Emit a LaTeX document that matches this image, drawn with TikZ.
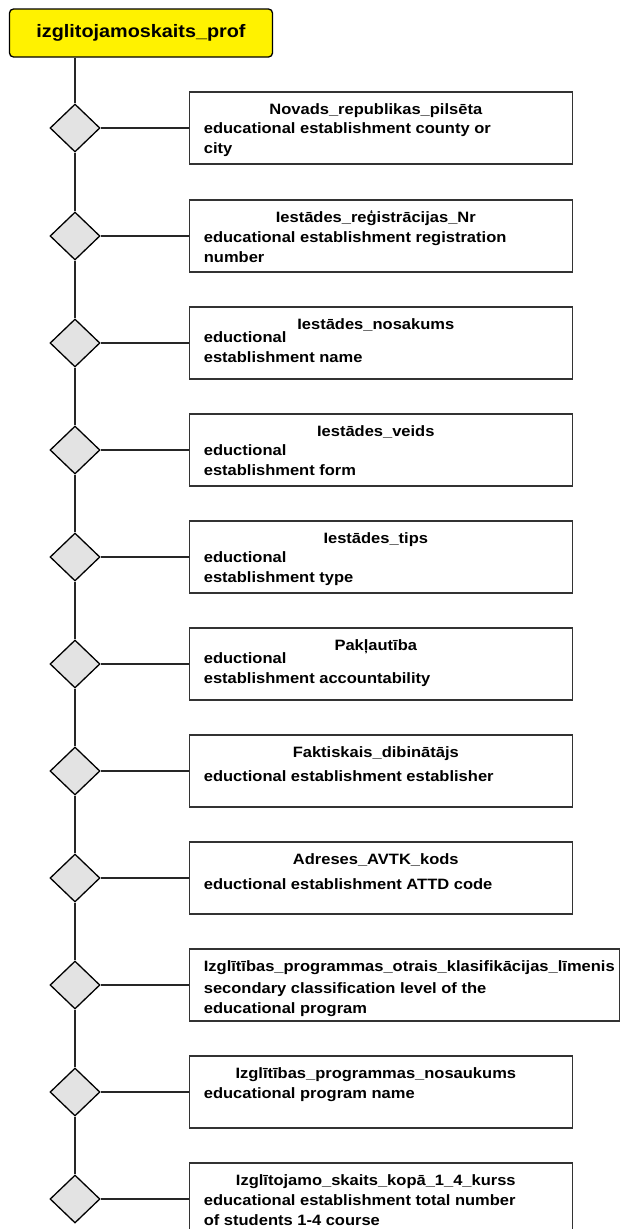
\documentclass[tikz,border=0pt]{standalone}
\usepackage{fontspec}
\setmainfont{Liberation Sans}[FakeStretch=1.1]
\usetikzlibrary{calc, positioning}
\usetikzlibrary{shapes.geometric}

\begin{document}
\begin{tikzpicture}[x=1pt, y=-1pt,
  entity/.style={draw=black, line width=1.3pt, fill=yellow, rounded corners=4pt,
    minimum width=263pt, minimum height=48pt, font=\fontsize{18}{20}\selectfont\bfseries},
  rel/.style={diamond, draw=black, line width=1.3pt, fill=black!11,
    minimum width=50pt, minimum height=48pt, inner sep=0pt},
  attr/.style={draw=black!80, line width=1.3pt, minimum width=383pt, minimum height=72pt, inner sep=0pt},
  attrtitle/.style={font=\fontsize{15}{20}\selectfont\bfseries, anchor=base, inner sep=0pt},
  attrdesc/.style={font=\fontsize{15}{20}\selectfont\bfseries, align=left, anchor=north west, inner sep=0pt},
  link/.style={line width=1.3pt, black!85}]
\useasboundingbox (0,0) rectangle (619,1229);

\node[entity] (prof) at (141,33) {izglitojamoskaits\_prof};

% relationship diamonds on the spine
\foreach \i/\y in {1/128,2/236,3/343,4/450,5/557,6/664,7/771,8/878,9/985,10/1092,11/1199} {
  \node[rel] (d\i) at (75,\y) {};
}

% attribute boxes
\foreach \i in {1,...,8,10,11} {
  \node[attr, right=88pt of d\i] (f\i) {};
}
\node[attr, minimum width=430pt, right=88pt of d9] (f9) {};

% spine and branches
\draw[link] (d1 |- prof.south) -- (d1.north);
\foreach \i [count=\j from 2] in {1,...,10} {
  \draw[link] (d\i.south) -- (d\j.north);
}
\foreach \i in {1,...,11} {
  \draw[link] (d\i.east) -- (f\i.west);
}

% texts in the boxes
\foreach \i/\ttl/\dsc/\dy in {
  1/{Novads\_republikas\_pilsēta}/{educational establishment county or\\city}/31,
  2/{Iestādes\_reģistrācijas\_Nr}/{educational establishment registration\\number}/32,
  3/{Iestādes\_nosakums}/{eductional\\establishment name}/25,
  4/{Iestādes\_veids}/{eductional\\establishment form}/31,
  5/{Iestādes\_tips}/{eductional\\establishment type}/31,
  6/{Pakļautība}/{eductional\\establishment accountability}/25,
  7/{Faktiskais\_dibinātājs}/{eductional establishment establisher}/36,
  8/{Adreses\_AVTK\_kods}/{eductional establishment ATTD code}/37,
  10/{Izglītības\_programmas\_nosaukums}/{educational program name}/32,
  11/{Izglītojamo\_skaits\_kopā\_1\_4\_kurss}/{educational establishment total number\\of students 1-4 course}/32} {
  \node[attrtitle] (t\i) at ($(f\i.north)+(-5,23)$) {\ttl};
  \node[attrdesc] (e\i) at ($(f\i.north west)+(15,\dy)$) {\dsc};
}
\node[attrtitle, anchor=base west] (t9) at ($(f9.north west)+(15,23)$) {Izglītības\_programmas\_otrais\_klasifikācijas\_līmenis};
\node[attrdesc] (e9) at ($(f9.north west)+(15,34)$) {secondary classification level of the\\educational program};
\end{tikzpicture}
\end{document}
